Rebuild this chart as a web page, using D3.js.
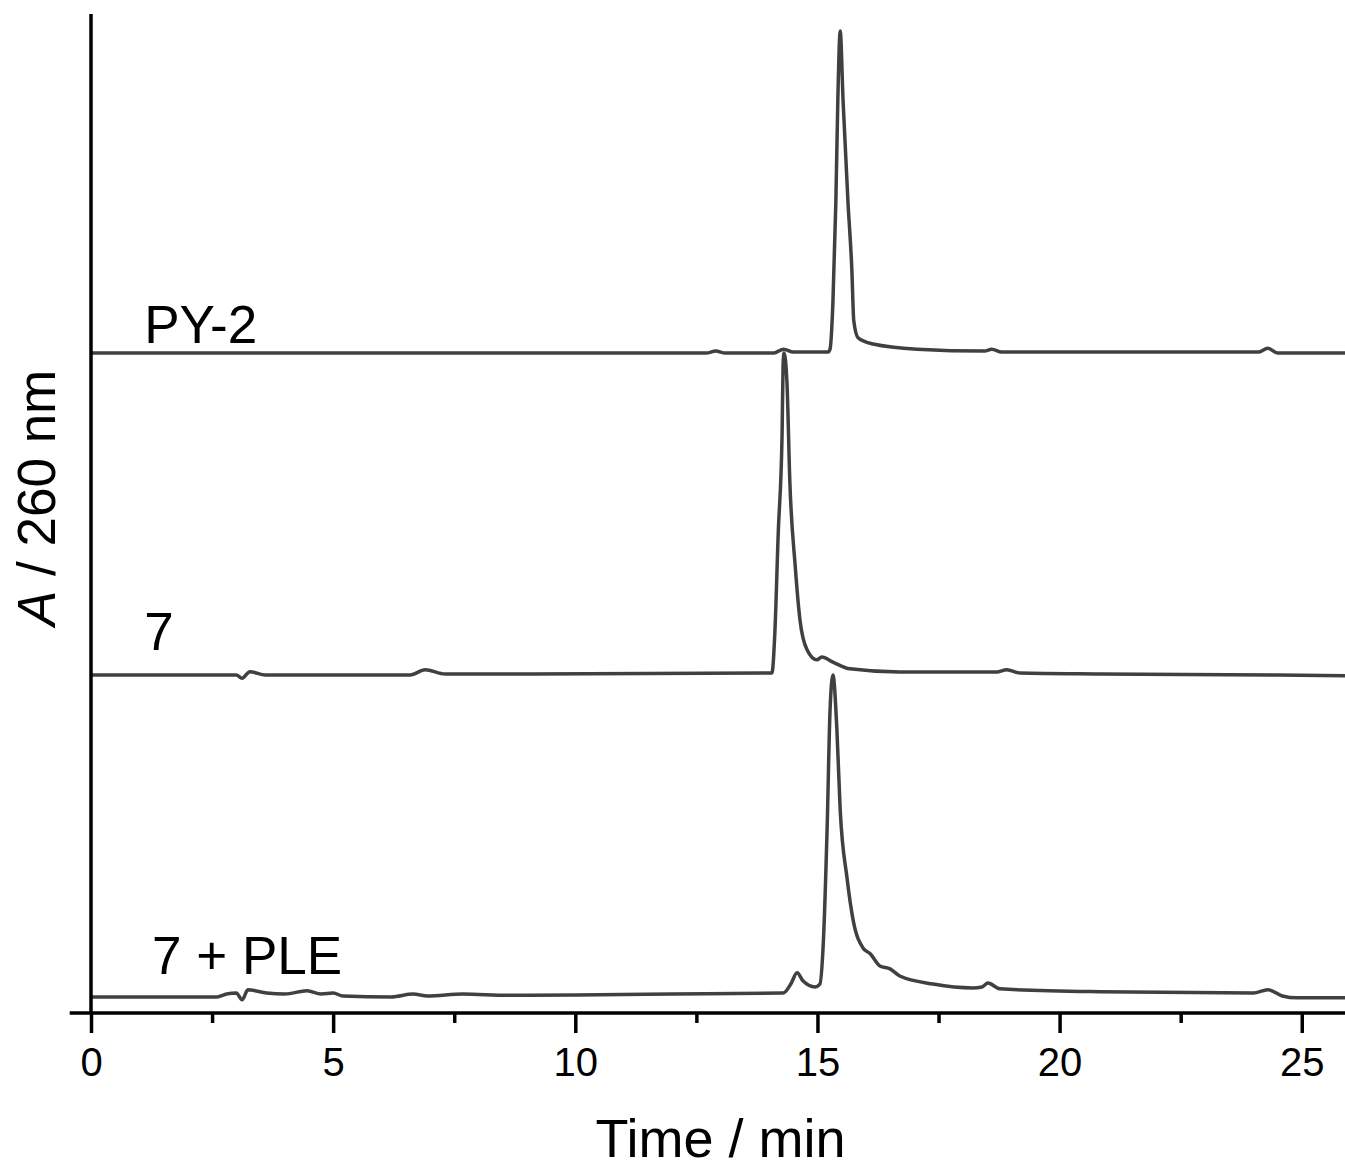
<!DOCTYPE html>
<meta charset="utf-8">
<script src="https://d3js.org/d3.v7.min.js"></script>
<style>
  body { margin: 0; background: #fff; }
  text { font-family: "Liberation Sans", Arial, sans-serif; fill: #000; }
</style>
<div id="chrom"></div>
<script>
    // retention time (min) and normalised absorbance
    const py2Time = [0, 12.7, 12.9, 13.1, 14.1, 14.3, 14.5, 15.1, 15.22, 15.26, 15.32, 15.38, 15.42, 15.47,
        15.53, 15.63, 15.71, 15.75, 15.84, 16.15, 17.06, 18.45, 18.6, 18.8, 24.1, 24.3, 24.5, 26];
    const py2Abs = [0, 0, 0.006, 0, 0, 0.012, 0.003, 0.003, 0.003, 0.012, 0.16, 0.47, 0.78, 1.0,
        0.78, 0.47, 0.26, 0.10, 0.047, 0.028, 0.012, 0.006, 0.012, 0.003, 0.003, 0.015, 0, 0];

    const cmpTime = [0, 3.0, 3.12, 3.28, 3.6, 6.59, 6.9, 7.31, 14.06, 14.12, 14.19, 14.27, 14.29, 14.31,
        14.37, 14.43, 14.54, 14.64, 14.78, 14.99, 15.09, 15.32, 15.67, 16.7, 18.7, 18.91, 19.18, 20.83, 24.5, 26];
    const cmpAbs = [0, 0, -0.01, 0.01, 0, 0, 0.016, 0.003, 0.006, 0.13, 0.44, 0.75, 0.96, 1.0,
        0.91, 0.60, 0.34, 0.17, 0.08, 0.047, 0.056, 0.04, 0.019, 0.009, 0.009, 0.016, 0.006, 0.003, 0, -0.003];

    const pleTime = [0, 2.6, 2.8, 3.0, 3.12, 3.24, 3.63, 4.0, 4.46, 4.75, 5.0, 5.2, 6.2, 6.65, 6.95, 7.68, 8.6,
        10, 12, 14.29, 14.45, 14.58, 14.7, 14.95, 15.05, 15.12, 15.2, 15.26, 15.32, 15.4, 15.47, 15.61,
        15.74, 15.94, 16.09, 16.29, 16.5, 16.7, 17.39, 18.21, 18.4, 18.52, 18.77, 20.83, 24.0, 24.3, 24.6, 24.9, 26];
    const pleAbs = [0, 0, 0.009, 0.012, -0.009, 0.022, 0.012, 0.009, 0.019, 0.009, 0.012, 0.003, 0, 0.009, 0.003, 0.009, 0.005,
        0.006, 0.009, 0.012, 0.04, 0.075, 0.05, 0.031, 0.04, 0.165, 0.525, 0.89, 1.0, 0.835, 0.58, 0.37,
        0.236, 0.152, 0.134, 0.096, 0.087, 0.065, 0.04, 0.028, 0.031, 0.043, 0.025, 0.016, 0.012, 0.022, 0.003, -0.003, -0.003];

    const traceNames = ["7 + PLE", "7", "PY-2"];
    const traceOffsets = [0, 1, 2];
    const xTicks = [0, 5, 10, 15, 20, 25];
    const xMinorTicks = [2.5, 7.5, 12.5, 17.5, 22.5];

    const traces = [
        {name: traceNames[0], offset: traceOffsets[0], time: pleTime, abs: pleAbs},
        {name: traceNames[1], offset: traceOffsets[1], time: cmpTime, abs: cmpAbs},
        {name: traceNames[2], offset: traceOffsets[2], time: py2Time, abs: py2Abs}
    ];

    const width = 1345, height = 1167;

    const svg = d3.select("#chrom")
        .append("svg")
            .attr("width", width)
            .attr("height", height);

    const x = d3.scaleLinear()
        .domain([0, 26])
        .range([91, 91 + 26 * 48.43]);

    const y = d3.scaleLinear()
        .domain([-0.05, 3.05])
        .range([1013, 15]);

    // traces
    const line = d3.line()
        .curve(d3.curveMonotoneX)
        .x(d => x(d[0]))
        .y(d => y(d[1]));

    svg.selectAll("path.trace")
        .data(traces)
        .join("path")
            .attr("class", "trace")
            .attr("fill", "none")
            .attr("stroke", "#404040")
            .attr("stroke-width", 3.5)
            .attr("stroke-linejoin", "round")
            .attr("d", d => line(d.time.map((t, i) => [t, d.abs[i] + d.offset])));

    // trace labels, lifted a little above each baseline
    const labelLift = {"7 + PLE": 23, "7": 25, "PY-2": 10};
    svg.selectAll("text.trace-label")
        .data(traces)
        .join("text")
            .attr("class", "trace-label")
            .attr("x", d => d.name === "7 + PLE" ? x(1.26) : x(1.1))
            .attr("y", d => y(d.offset) - labelLift[d.name])
            .attr("font-size", 53)
            .text(d => d.name);

    // x axis: major and minor ticks
    const xAxis = svg.append("g")
        .attr("transform", `translate(0, ${y(-0.05)})`)
        .call(d3.axisBottom(x).tickValues(xTicks).tickSize(20).tickPadding(15).tickFormat(d3.format("d")));
    xAxis.select(".domain").remove();
    xAxis.selectAll(".tick line").attr("stroke", "#000").attr("stroke-width", 3.5);
    xAxis.selectAll(".tick text").attr("font-size", 40).attr("font-family", "Liberation Sans, Arial, sans-serif");

    const xMinor = svg.append("g")
        .attr("transform", `translate(0, ${y(-0.05)})`)
        .call(d3.axisBottom(x).tickValues(xMinorTicks).tickSize(10).tickFormat(""));
    xMinor.select(".domain").remove();
    xMinor.selectAll(".tick line").attr("stroke", "#000").attr("stroke-width", 3.5);

    svg.append("line")
        .attr("x1", x(-0.44)).attr("x2", width)
        .attr("y1", y(-0.05)).attr("y2", y(-0.05))
        .attr("stroke", "#000").attr("stroke-width", 3.5);

    // y axis line (no ticks)
    svg.append("line")
        .attr("x1", x(0)).attr("x2", x(0))
        .attr("y1", y(3.05) - 1).attr("y2", y(-0.05))
        .attr("stroke", "#000").attr("stroke-width", 3.5);

    // axis titles
    svg.append("text")
        .attr("x", x(13.0))
        .attr("y", 1157)
        .attr("text-anchor", "middle")
        .attr("font-size", 54)
        .text("Time / min");

    const yTitle = svg.append("text")
        .attr("transform", `translate(55, ${y(1.55)}) rotate(-90)`)
        .attr("text-anchor", "middle")
        .attr("font-size", 53);
    yTitle.append("tspan").attr("font-style", "italic").text("A");
    yTitle.append("tspan").text(" / 260 nm");
</script>
